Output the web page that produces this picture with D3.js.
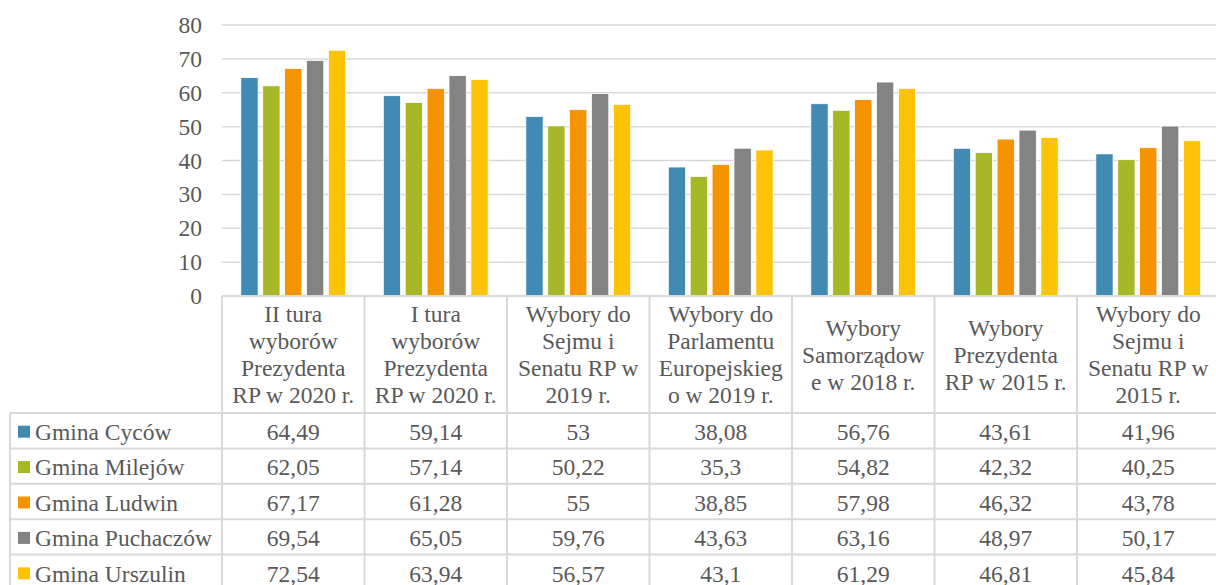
<!DOCTYPE html>
<html>
<head>
<meta charset="utf-8">
<script src="https://cdn.jsdelivr.net/npm/d3@7"></script>
<style>
  body { margin: 0; background: #fff; }
  svg text { font-family: "Liberation Serif", Tinos, "DejaVu Serif", serif; fill: #595959; }
</style>
</head>
<body>
<svg id="chart" width="1216" height="585"></svg>
<script>
// data
const categories = [
  "II tura\nwyborów\nPrezydenta\nRP w 2020 r.",
  "I tura\nwyborów\nPrezydenta\nRP w 2020 r.",
  "Wybory do\nSejmu i\nSenatu RP w\n2019 r.",
  "Wybory do\nParlamentu\nEuropejskieg\no w 2019 r.",
  "Wybory\nSamorządow\ne w 2018 r.",
  "Wybory\nPrezydenta\nRP w 2015 r.",
  "Wybory do\nSejmu i\nSenatu RP w\n2015 r."
];
const seriesNames = ["Gmina Cyców", "Gmina Milejów", "Gmina Ludwin", "Gmina Puchaczów", "Gmina Urszulin"];
const cycow     = [64.49, 59.14, 53, 38.08, 56.76, 43.61, 41.96];
const milejow   = [62.05, 57.14, 50.22, 35.3, 54.82, 42.32, 40.25];
const ludwin    = [67.17, 61.28, 55, 38.85, 57.98, 46.32, 43.78];
const puchaczow = [69.54, 65.05, 59.76, 43.63, 63.16, 48.97, 50.17];
const urszulin  = [72.54, 63.94, 56.57, 43.1, 61.29, 46.81, 45.84];
const yTicks = [0, 10, 20, 30, 40, 50, 60, 70, 80];
const colors = ["#418AB3", "#A6B828", "#F59300", "#838383", "#FEC207"];

const values = [cycow, milejow, ludwin, puchaczow, urszulin];

const svg = d3.select("#chart");
const fs = 23.5;
const font = '"Liberation Serif", Tinos, "DejaVu Serif", serif';
const grid = "#d9d9d9";

const left = 222, colW = 142.5;
const x = d3.scaleBand().domain(categories).range([left, left + categories.length * colW]);
const x1 = d3.scaleBand().domain(seriesNames).range([0, x.bandwidth()])
  .paddingInner(0.21).paddingOuter(0.86);
const y = d3.scaleLinear().domain([0, 80]).range([296, 25]);

// gridlines
svg.append("g").selectAll("line").data(yTicks).enter().append("line")
  .attr("x1", left).attr("x2", 1216)
  .attr("y1", d => y(d)).attr("y2", d => y(d))
  .attr("stroke", grid).attr("stroke-width", 1.5);

// y axis labels
const yAxis = svg.append("g").attr("transform", `translate(${left},0)`)
  .call(d3.axisLeft(y).tickValues(yTicks).tickSize(0).tickPadding(20));
yAxis.attr("font-family", null).attr("font-size", null);
yAxis.select(".domain").remove();
yAxis.selectAll("text").style("font-size", fs + "px")
  .style("font-family", font).style("fill", "#595959");

// bars
const groups = svg.append("g").selectAll("g").data(categories).enter().append("g")
  .attr("transform", d => `translate(${x(d)},0)`);
groups.selectAll("rect")
  .data((c, i) => seriesNames.map((s, k) => ({ s, k, v: values[k][i] })))
  .enter().append("rect")
  .attr("x", d => x1(d.s))
  .attr("width", x1.bandwidth())
  .attr("y", d => y(d.v))
  .attr("height", d => y(0) - y(d.v))
  .attr("fill", d => colors[d.k])
  .attr("stroke", "#fff").attr("stroke-width", 0.8);

// data table
const headTop = 296, headBot = 413, rowH = 35.4, tableLeft = 10;
const rowY = seriesNames.map((s, k) => headBot + k * rowH);
const tableBot = headBot + seriesNames.length * rowH;
const tbl = svg.append("g");

// horizontal lines
tbl.append("line").attr("x1", left).attr("x2", 1216).attr("y1", headTop).attr("y2", headTop)
  .attr("stroke", grid).attr("stroke-width", 2);
tbl.selectAll(".hrow").data(rowY.concat([tableBot])).enter().append("line")
  .attr("x1", tableLeft).attr("x2", 1216)
  .attr("y1", d => d).attr("y2", d => d)
  .attr("stroke", grid).attr("stroke-width", 2);
// vertical lines
tbl.selectAll(".vcol").data(categories.concat(["end"])).enter().append("line")
  .attr("x1", (d, i) => left + i * colW).attr("x2", (d, i) => left + i * colW)
  .attr("y1", headTop).attr("y2", tableBot)
  .attr("stroke", grid).attr("stroke-width", 2);
tbl.append("line").attr("x1", tableLeft).attr("x2", tableLeft)
  .attr("y1", headBot).attr("y2", tableBot)
  .attr("stroke", grid).attr("stroke-width", 2);

// header labels
const lineH = 27;
categories.forEach(c => {
  const lines = c.split("\n");
  const cy = (headTop + headBot) / 2 - (lines.length - 1) * lineH / 2;
  const t = tbl.append("text").attr("text-anchor", "middle")
    .style("font-size", fs + "px");
  lines.forEach((ln, j) => {
    t.append("tspan").attr("x", x(c) + x.bandwidth() / 2)
      .attr("y", cy + j * lineH).attr("dy", "0.35em").text(ln);
  });
});

// rows
seriesNames.forEach((s, k) => {
  const cy = rowY[k] + rowH / 2 + 1;
  tbl.append("rect").attr("x", 18).attr("y", cy - 6).attr("width", 12).attr("height", 12)
    .attr("fill", colors[k]);
  tbl.append("text").attr("x", 35).attr("y", cy).attr("dy", "0.35em")
    .style("font-size", fs + "px").text(s);
  categories.forEach((c, i) => {
    tbl.append("text").attr("x", x(c) + x.bandwidth() / 2).attr("y", cy).attr("dy", "0.35em")
      .attr("text-anchor", "middle").style("font-size", fs + "px")
      .text(String(values[k][i]).replace(".", ","));
  });
});
</script>
</body>
</html>
